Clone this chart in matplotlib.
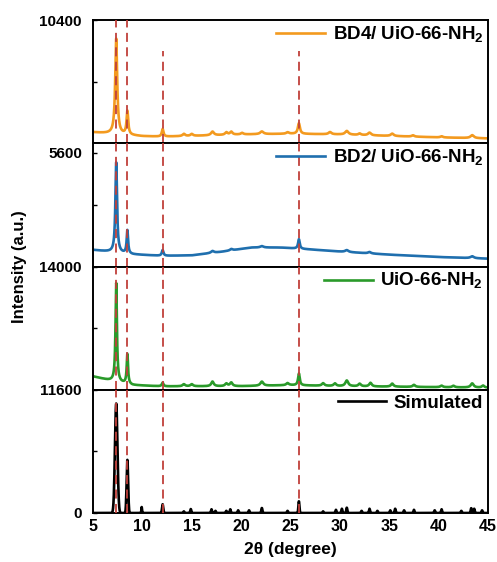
import numpy as np
import matplotlib.pyplot as plt

plt.rcParams['font.family'] = 'Liberation Sans'
plt.rcParams['font.weight'] = 'bold'
plt.rcParams['mathtext.fontset'] = 'custom'
plt.rcParams['mathtext.rm'] = 'Liberation Sans:bold'
plt.rcParams['mathtext.bf'] = 'Liberation Sans:bold'

# ---- data: peak tables + background anchors for each pattern ----
two_theta = np.linspace(5, 45, 4001)

labels = ['BD4/ UiO-66-NH$_2$', 'BD2/ UiO-66-NH$_2$', 'UiO-66-NH$_2$', 'Simulated']
colors = ['#F39A1F', '#1F6FAE', '#2A9A2A', '#000000']

# BD4/UiO-66-NH2
bd4_bg_x = [5, 10, 12, 15, 20, 25, 30, 35, 40, 45]
bd4_bg_y = [2750, 2480, 2450, 2500, 2600, 2650, 2600, 2500, 2400, 2330]
bd4_pk_pos = [7.35, 8.48, 12.05, 14.2, 15.0, 17.1, 18.5, 19.0, 20.1, 22.1, 24.7,
              25.85, 29.0, 30.7, 32.0, 33.0, 35.3, 37.4, 40.3, 43.4]
bd4_pk_h = [6500, 1600, 520, 150, 130, 250, 170, 200, 100, 180, 100,
            720, 150, 250, 100, 180, 160, 90, 80, 200]
bd4_pk_w = [0.24, 0.2, 0.2, 0.3, 0.3, 0.35, 0.3, 0.3, 0.3, 0.4, 0.3,
            0.25, 0.35, 0.4, 0.3, 0.35, 0.35, 0.3, 0.3, 0.4]

# BD2/UiO-66-NH2
bd2_bg_x = [5, 9, 12, 15, 18, 21, 24, 27, 30, 35, 40, 45]
bd2_bg_y = [1500, 1310, 1250, 1270, 1420, 1600, 1600, 1520, 1430, 1300, 1200, 1130]
bd2_pk_pos = [7.35, 8.48, 12.05, 17.1, 19.0, 22.1, 25.85, 30.7, 33.0, 43.4]
bd2_pk_h = [3800, 980, 240, 80, 60, 60, 400, 80, 60, 80]
bd2_pk_w = [0.2, 0.17, 0.2, 0.35, 0.3, 0.4, 0.2, 0.4, 0.35, 0.4]

# UiO-66-NH2
uio_bg_x = [5, 6.5, 9, 12, 20, 25, 30, 45]
uio_bg_y = [3300, 2950, 2450, 2330, 2350, 2450, 2350, 2200]
uio_pk_pos = [7.35, 8.48, 12.05, 14.2, 15.0, 17.1, 18.5, 19.0, 22.1, 24.7, 25.85,
              28.3, 29.5, 30.7, 32.0, 33.1, 35.3, 37.5, 40.3, 41.5, 43.4, 44.5]
uio_pk_h = [9600, 2900, 360, 200, 200, 450, 250, 350, 400, 200, 1150,
            250, 250, 550, 250, 350, 300, 200, 150, 150, 400, 200]
uio_pk_w = [0.17, 0.16, 0.2, 0.3, 0.3, 0.3, 0.3, 0.3, 0.35, 0.3, 0.2,
            0.3, 0.3, 0.35, 0.3, 0.3, 0.3, 0.3, 0.3, 0.3, 0.35, 0.3]

# simulated pattern
sim_pk_pos = [7.35, 8.48, 9.93, 12.05, 14.2, 14.9, 17.0, 17.4, 18.5, 18.9, 19.7,
              20.8, 22.1, 24.7, 25.85, 28.3, 29.6, 30.2, 30.7, 32.2, 33.0, 33.8,
              35.1, 35.6, 36.5, 37.5, 39.6, 40.3, 42.3, 43.3, 43.6, 44.4]
sim_pk_h = [10300, 5000, 560, 820, 150, 370, 350, 200, 200, 350, 250,
            250, 470, 200, 1100, 150, 300, 400, 500, 200, 400, 200,
            250, 400, 250, 300, 250, 350, 200, 450, 400, 250]
sim_pk_w = [0.3, 0.18, 0.07, 0.14] + [0.12] * 28

y_lims = [(2000, 10400), (800, 6000), (2000, 14000), (0, 11600)]
y_tick_labels = [['', '10400'], ['', '5600'], ['', '14000'], ['0', '', '11600']]
y_ticks = [[6200, 10400], [3400, 5600], [8000, 14000], [0, 5800, 11600]]

ref_lines = [7.35, 8.48, 12.05, 25.9]


def pattern(pos, height, width, bg_x=None, bg_y=None):
    y = np.zeros_like(two_theta)
    if bg_x is not None:
        y += np.interp(two_theta, bg_x, bg_y)
    for p, h, w in zip(pos, height, width):
        y += h / (1 + ((two_theta - p) / (w / 2)) ** 2)
    return y


def sim_pattern(pos, height, width):
    y = np.zeros_like(two_theta)
    for p, h, w in zip(pos, height, width):
        y += h * np.exp(-4 * np.log(2) * ((two_theta - p) / w) ** 2)
    return y


curves = [
    pattern(bd4_pk_pos, bd4_pk_h, bd4_pk_w, bd4_bg_x, bd4_bg_y),
    pattern(bd2_pk_pos, bd2_pk_h, bd2_pk_w, bd2_bg_x, bd2_bg_y),
    pattern(uio_pk_pos, uio_pk_h, uio_pk_w, uio_bg_x, uio_bg_y),
    sim_pattern(sim_pk_pos, sim_pk_h, sim_pk_w),
]

# ---- figure ----
fig = plt.figure(figsize=(4.97, 5.62), dpi=100)
left, right, bottom, top = 93 / 497, 488 / 497, 49 / 562, 542 / 562
panel_h = (top - bottom) / 4

axes = []
for i in range(4):
    ax = fig.add_axes([left, top - (i + 1) * panel_h, right - left, panel_h])
    axes.append(ax)
    ax.plot(two_theta, curves[i], color=colors[i], lw=1.9, label=labels[i])
    ax.set_xlim(5, 45)
    ax.set_ylim(*y_lims[i])
    ax.set_yticks(y_ticks[i])
    ax.set_yticklabels(y_tick_labels[i])
    ax.tick_params(axis='y', direction='in', length=3, width=1, labelsize=11, pad=8)
    ax.tick_params(axis='x', length=0, labelsize=11.5, pad=4)
    for s in ax.spines.values():
        s.set_linewidth(1.4)
    for k, xv in enumerate(ref_lines):
        ymax = 0.75 if (i == 0 and k >= 2) else 1.0
        ax.axvline(xv, ymax=ymax, color='#C0403A', lw=1.3, ls=(0, (5, 3)), zorder=5)
    leg = ax.legend(loc='upper right', frameon=False, fontsize=13.5, handlelength=2.6,
                    handletextpad=0.4, borderaxespad=0.05, borderpad=0.2)
    for t in leg.get_texts():
        t.set_fontweight('bold')
    if i < 3:
        ax.set_xticklabels([])
    else:
        ax.set_xticks(range(5, 50, 5))

axes[-1].set_xlabel('2θ (degree)', fontsize=12.5, fontweight='bold', labelpad=6)
fig.text(0.04, (top + bottom) / 2, 'Intensity (a.u.)', rotation=90, fontsize=12,
         fontweight='bold', va='center', ha='center')

fig.savefig('out.png', dpi=100)
